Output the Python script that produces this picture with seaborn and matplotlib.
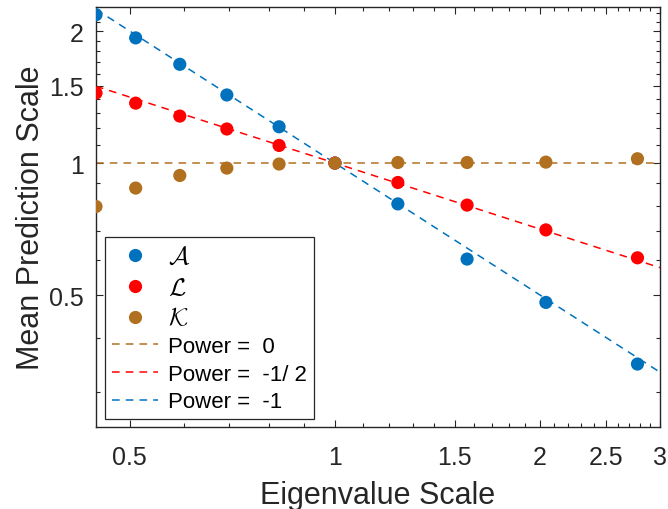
import numpy as np
import pandas as pd
import matplotlib
matplotlib.use("Agg")
import matplotlib.pyplot as plt
import seaborn as sns
from matplotlib.ticker import FixedLocator, NullFormatter, FixedFormatter
from matplotlib.lines import Line2D

# ---- data ----
eig_scale = [0.446, 0.510, 0.592, 0.694, 0.828, 1.0, 1.237, 1.563, 2.04, 2.78]
series_A = [2.18, 1.93, 1.68, 1.43, 1.21, 1.0, 0.807, 0.604, 0.481, 0.348]
series_L = [1.445, 1.37, 1.28, 1.196, 1.097, 1.0, 0.903, 0.802, 0.704, 0.608]
series_K = [0.796, 0.877, 0.937, 0.974, 0.995, 1.0, 1.003, 1.003, 1.005, 1.023]
series_names = [r"$\mathcal{A}$", r"$\mathcal{L}$", r"$\mathcal{K}$"]
powers = [0, -0.5, -1]
power_labels = ["Power =  0", "Power =  -1/ 2", "Power =  -1"]
x_ticks = [0.5, 1, 1.5, 2, 2.5, 3]
x_ticklabels = ["0.5", "1", "1.5", "2", "2.5", "3"]
y_ticks = [0.5, 1, 1.5, 2]
y_ticklabels = ["0.5", "1", "1.5", "2"]

col_A = "#0072BD"
col_L = "#FF0000"
col_K = "#B0701F"
series_colors = [col_A, col_L, col_K]
power_colors = [col_K, col_L, col_A]

sns.set_style("ticks")
plt.rcParams["font.family"] = ["Liberation Sans", "DejaVu Sans"]
plt.rcParams["mathtext.fontset"] = "cm"

fig = plt.figure(figsize=(6.68, 5.10), dpi=100)
ax = fig.add_axes([96 / 668, (510 - 428) / 510, 564 / 668, 420 / 510])

xlim = (0.446, 3.0)
ylim = (0.25, 2.27)

# fitted power-law lines
xs = np.geomspace(xlim[0], xlim[1], 200)
line_handles = []
for p, lab, c in zip(powers, power_labels, power_colors):
    df_line = pd.DataFrame({"x": xs, "y": xs ** p})
    sns.lineplot(data=df_line, x="x", y="y", ax=ax, color=c, lw=1.1,
                 dashes=False, zorder=2)
    ln = ax.lines[-1]
    ln.set_dashes((5, 4))
    ln.set_label(lab)
    line_handles.append(ln)

# scatter points
df_pts = pd.DataFrame({
    "x": eig_scale * 3,
    "y": series_A + series_L + series_K,
    "s": [series_names[0]] * len(eig_scale) + [series_names[1]] * len(eig_scale)
         + [series_names[2]] * len(eig_scale),
})
sns.scatterplot(data=df_pts, x="x", y="y", hue="s", palette=series_colors,
                s=90, edgecolor="none", ax=ax, zorder=3, legend=False)

ax.set_xscale("log")
ax.set_yscale("log")
ax.set_xlim(*xlim)
ax.set_ylim(*ylim)

ax.xaxis.set_major_locator(FixedLocator(x_ticks))
ax.xaxis.set_major_formatter(FixedFormatter(x_ticklabels))
ax.xaxis.set_minor_locator(FixedLocator(np.round(np.arange(0.5, 3.01, 0.1), 2)))
ax.xaxis.set_minor_formatter(NullFormatter())
ax.yaxis.set_major_locator(FixedLocator(y_ticks))
ax.yaxis.set_major_formatter(FixedFormatter(y_ticklabels))
ax.yaxis.set_minor_locator(FixedLocator(np.round(np.arange(0.3, 2.21, 0.1), 2)))
ax.yaxis.set_minor_formatter(NullFormatter())

spine_col = "#262626"
for sp in ax.spines.values():
    sp.set_visible(True)
    sp.set_color(spine_col)
    sp.set_linewidth(1.0)
ax.tick_params(which="both", direction="in", top=True, right=True,
               colors=spine_col, labelcolor=spine_col, width=0.8)
ax.tick_params(which="major", length=5, labelsize=18)
ax.tick_params(which="minor", length=3)
ax.tick_params(axis="x", which="major", pad=13)
ax.tick_params(axis="y", which="major", pad=9)

ax.set_xlabel("Eigenvalue Scale", fontsize=22, color=spine_col, labelpad=8)
ax.set_ylabel("Mean Prediction Scale", fontsize=22, color=spine_col, labelpad=2)

# legend
pt_handles = [Line2D([], [], ls="none", marker="o", ms=9.5, mec="none", mfc=c)
              for c in series_colors]
handles = pt_handles + line_handles
labels = series_names + power_labels
leg = ax.legend(handles, labels, loc="lower left", bbox_to_anchor=(0.016, 0.019),
                borderaxespad=0, fontsize=16, frameon=True, fancybox=False,
                handlelength=2.1, handletextpad=0.45, labelspacing=0.3,
                borderpad=0.3)
leg.get_frame().set_edgecolor(spine_col)
leg.get_frame().set_linewidth(0.9)
leg.get_frame().set_facecolor("white")
leg.get_frame().set_alpha(1)
for i, t in enumerate(leg.get_texts()):
    t.set_color("black")
    if i < 3:
        t.set_fontsize(18)

fig.savefig("out.png", dpi=100)
